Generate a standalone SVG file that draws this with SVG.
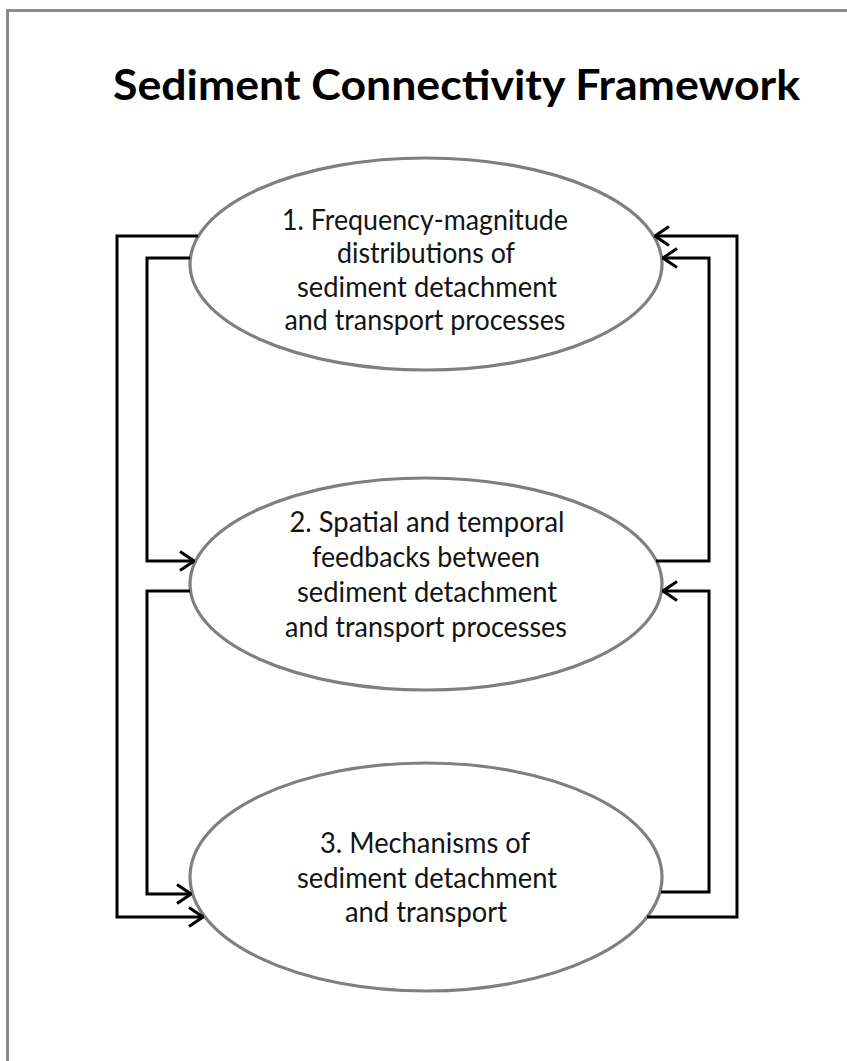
<svg xmlns="http://www.w3.org/2000/svg" width="847" height="1061" viewBox="0 0 847 1061">
  <style>
    .frame { fill: none; stroke: #8a8a8a; stroke-width: 3; }
    .node { fill: #ffffff; stroke: #7f7f7f; stroke-width: 3.2; }
    .label { font-family: Lato, "Liberation Sans", sans-serif; font-size: 28px; fill: #141414; text-anchor: middle; }
    .title { font-family: Lato, "Liberation Sans", sans-serif; font-size: 42px; font-weight: bold; fill: #000; }
    .conn { fill: none; stroke: #000; stroke-width: 3; stroke-linejoin: miter; }
  </style>
  <defs>
    <marker id="arrow" viewBox="0 0 16 22" refX="15" refY="11" markerWidth="16" markerHeight="22" markerUnits="userSpaceOnUse" orient="auto">
      <path d="M1,1.5 L15,11 L1,20.5" fill="none" stroke="#000" stroke-width="3"/>
    </marker>
  </defs>
  <rect x="0" y="0" width="847" height="1061" fill="#ffffff"/>
  <path class="frame" d="M7.5,1061 V10.5 H847"/>
  <text class="title" x="113" y="100" textLength="687" lengthAdjust="spacingAndGlyphs">Sediment Connectivity Framework</text>

  <g id="node1">
    <ellipse class="node" cx="426" cy="264" rx="236" ry="106"/>
    <text class="label" x="425" y="230" textLength="286" lengthAdjust="spacingAndGlyphs">1. Frequency-magnitude</text>
    <text class="label" x="426" y="263" textLength="178" lengthAdjust="spacingAndGlyphs">distributions of</text>
    <text class="label" x="427" y="297" textLength="260" lengthAdjust="spacingAndGlyphs">sediment detachment</text>
    <text class="label" x="425" y="330" textLength="281" lengthAdjust="spacingAndGlyphs">and transport processes</text>
  </g>

  <g id="node2">
    <ellipse class="node" cx="426" cy="584" rx="236" ry="106"/>
    <text class="label" x="427" y="532" textLength="275" lengthAdjust="spacingAndGlyphs">2. Spatial and temporal</text>
    <text class="label" x="426" y="567" textLength="228" lengthAdjust="spacingAndGlyphs">feedbacks between</text>
    <text class="label" x="427" y="602" textLength="260" lengthAdjust="spacingAndGlyphs">sediment detachment</text>
    <text class="label" x="426" y="637" textLength="282" lengthAdjust="spacingAndGlyphs">and transport processes</text>
  </g>

  <g id="node3">
    <ellipse class="node" cx="426" cy="877" rx="236" ry="114"/>
    <text class="label" x="425" y="853" textLength="210" lengthAdjust="spacingAndGlyphs">3. Mechanisms of</text>
    <text class="label" x="427" y="888" textLength="260" lengthAdjust="spacingAndGlyphs">sediment detachment</text>
    <text class="label" x="426" y="922" textLength="162" lengthAdjust="spacingAndGlyphs">and transport</text>
  </g>

  <g id="connectors">
    <path class="conn" d="M198,236 H117 V917 H203" marker-end="url(#arrow)"/>
    <path class="conn" d="M190,258 H147 V561 H194" marker-end="url(#arrow)"/>
    <path class="conn" d="M190,591 H147 V894 H191" marker-end="url(#arrow)"/>
    <path class="conn" d="M647,917 H737 V236 H655" marker-end="url(#arrow)"/>
    <path class="conn" d="M656,561 H709 V258 H663" marker-end="url(#arrow)"/>
    <path class="conn" d="M661,892 H709 V591 H663" marker-end="url(#arrow)"/>
  </g>
</svg>
